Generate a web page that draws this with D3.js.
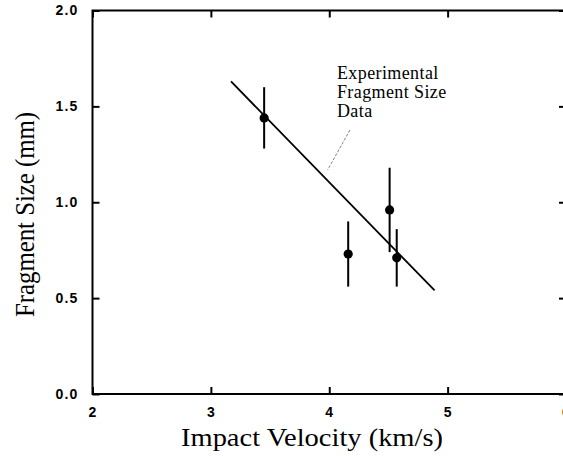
<!DOCTYPE html>
<html>
<head>
<meta charset="utf-8">
<script src="https://cdn.jsdelivr.net/npm/d3@7"></script>
<style>
  html, body { margin: 0; padding: 0; background: #fff; }
  svg { display: block; }
</style>
</head>
<body>
<script>
// Measured fragment sizes versus impact velocity
const velocity = [3.45, 4.16, 4.51, 4.57];          // km/s
const fragmentSize = [1.44, 0.73, 0.96, 0.71];      // mm
const sizeError = [0.16, 0.17, 0.22, 0.15];         // mm, half-length of error bar

// Linear fit through the data
const fitVelocity = [3.17, 4.89];
const fitSize = [1.63, 0.54];

// Axis ticks
const xTicks = [2, 3, 4, 5, 6];
const yTicks = [0.0, 0.5, 1.0, 1.5, 2.0];

const annotationLines = ["Experimental", "Fragment Size", "Data"];

const W = 563, H = 456;
const svg = d3.select("body").append("svg")
  .attr("width", W).attr("height", H);

const x = d3.scaleLinear().domain([2, 6]).range([92.5, 566]);
const y = d3.scaleLinear().domain([0, 2]).range([394, 10.5]);

const tickFont = "'Liberation Sans', Arial, sans-serif";
const serif = "'Liberation Serif', 'Times New Roman', serif";

// Frame
svg.append("rect")
  .attr("x", x(2)).attr("y", y(2))
  .attr("width", x(6) - x(2)).attr("height", y(0) - y(2))
  .attr("fill", "none").attr("stroke", "#000").attr("stroke-width", 2);

function styleAxis(g) {
  g.select(".domain").remove();
  g.selectAll(".tick line").attr("stroke", "#000").attr("stroke-width", 2);
  g.selectAll(".tick text")
    .attr("fill", "#000")
    .style("font-family", tickFont)
    .style("font-weight", "bold")
    .style("font-size", "14px")
    .style("letter-spacing", "1.2px");
}

// Left axis with labels
svg.append("g")
  .attr("transform", `translate(${x(2)},0)`)
  .call(d3.axisLeft(y).tickValues(yTicks).tickFormat(d3.format(".1f"))
    .tickSizeInner(-7).tickSizeOuter(0).tickPadding(14))
  .call(styleAxis);

// Bottom axis with labels
svg.append("g")
  .attr("transform", `translate(0,${y(0)})`)
  .call(d3.axisBottom(x).tickValues(xTicks).tickFormat(d3.format("d"))
    .tickSizeInner(-7).tickSizeOuter(0).tickPadding(13))
  .call(styleAxis);

// Top and right axes: ticks only
svg.append("g")
  .attr("transform", `translate(0,${y(2)})`)
  .call(d3.axisTop(x).tickValues(xTicks).tickFormat("")
    .tickSizeInner(-7).tickSizeOuter(0))
  .call(styleAxis);

svg.append("g")
  .attr("transform", `translate(${x(6)},0)`)
  .call(d3.axisRight(y).tickValues(yTicks).tickFormat("")
    .tickSizeInner(-7).tickSizeOuter(0))
  .call(styleAxis);

// Axis titles
svg.append("text")
  .attr("x", 312).attr("y", 446)
  .attr("text-anchor", "middle")
  .attr("textLength", 262).attr("lengthAdjust", "spacingAndGlyphs")
  .style("font-family", serif).style("font-size", "26px")
  .text("Impact Velocity (km/s)");

svg.append("text")
  .attr("transform", "translate(34,214.5) rotate(-90)")
  .attr("text-anchor", "middle")
  .attr("textLength", 205).attr("lengthAdjust", "spacingAndGlyphs")
  .style("font-family", serif).style("font-size", "27px")
  .text("Fragment Size (mm)");

// Fit line
const fit = fitVelocity.map((v, i) => [v, fitSize[i]]);
svg.append("path")
  .datum(fit)
  .attr("d", d3.line().x(d => x(d[0])).y(d => y(d[1])))
  .attr("fill", "none").attr("stroke", "#000").attr("stroke-width", 1.8);

// Error bars
const data = velocity.map((v, i) => ({ v, s: fragmentSize[i], e: sizeError[i] }));
svg.append("g").selectAll("line")
  .data(data).join("line")
  .attr("x1", d => x(d.v)).attr("x2", d => x(d.v))
  .attr("y1", d => y(d.s + d.e)).attr("y2", d => y(d.s - d.e))
  .attr("stroke", "#000").attr("stroke-width", 2);

// Data points
svg.append("g").selectAll("circle")
  .data(data).join("circle")
  .attr("cx", d => x(d.v)).attr("cy", d => y(d.s))
  .attr("r", 4.6).attr("fill", "#000");

// Annotation with leader line
svg.append("line")
  .attr("x1", x(4.175)).attr("y1", y(1.377))
  .attr("x2", x(3.986)).attr("y2", y(1.168))
  .attr("stroke", "#666").attr("stroke-width", 0.8)
  .attr("stroke-dasharray", "3,1.5");

const note = svg.append("text")
  .style("font-family", serif).style("font-size", "18px")
  .style("letter-spacing", "0.4px");
note.selectAll("tspan")
  .data(annotationLines).join("tspan")
  .attr("x", x(4.065))
  .attr("y", (d, i) => 79 + i * 19)
  .text(d => d);
</script>
</body>
</html>
